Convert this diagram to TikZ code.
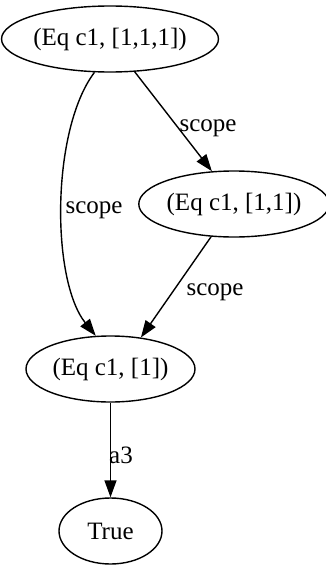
\documentclass[tikz,border=0pt]{standalone}
\usepackage{fontspec}
\setmainfont{Liberation Serif}
\usetikzlibrary{shapes.geometric, arrows.meta, positioning}

\begin{document}
\begin{tikzpicture}[
    x=1pt, y=-1pt,
    font=\fontsize{25}{30}\selectfont,
    state/.style={ellipse, draw, line width=1.4pt, minimum height=66pt, inner sep=0pt},
    edgelabel/.style={inner sep=0pt},
    arrow/.style={line width=1.4pt, -{Triangle[length=17pt, width=12pt]}}
]
\useasboundingbox (0,0) rectangle (326,565);

\node (q3) [state, minimum width=204pt] at (110,39) {(Eq c1, [1,1,1])};

\node (q2) [state, minimum width=182pt] at (234,204) {(Eq c1, [1,1])};

\node (q1) [state, minimum width=169pt] at (110.5,369) {(Eq c1, [1])};

\node (yes) [state, minimum width=103pt] at (110.5,531) {True};

\draw[arrow] (q3.-53) -- (q2.124);
\draw[arrow] (q3.245) .. controls (51,130) and (51,280) .. (q1.114);
\draw[arrow] (q2.235) -- (q1.46);
\draw[arrow] (q1.south) -- (yes.north);

\node (l32) [edgelabel] at (208,128) {scope};
\node (l31) [edgelabel] at (94,210) {scope};
\node (l21) [edgelabel] at (215,292) {scope};
\node (l1t) [edgelabel] at (121,455) {a3};

\end{tikzpicture}
\end{document}
